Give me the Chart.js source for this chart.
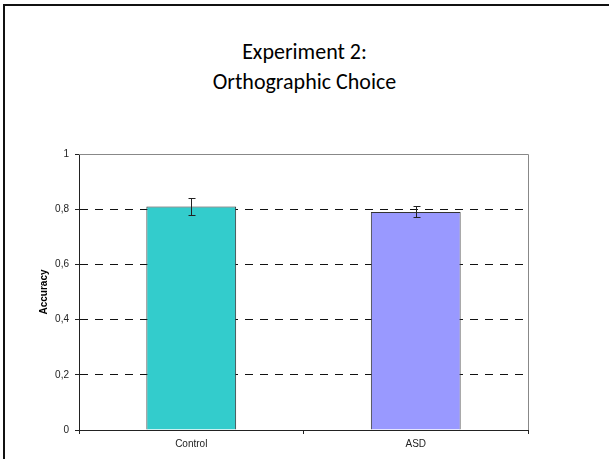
<!DOCTYPE html>
<html>
<head>
<meta charset="utf-8">
<script src="https://cdn.jsdelivr.net/npm/chart.js@4"></script>
<style>
  html, body { margin: 0; padding: 0; background: #fff; }
  #slide { position: relative; width: 609px; height: 459px; overflow: hidden; }
  #frame { position: absolute; left: 3px; top: 4px; width: 620px; height: 470px;
           border-top: 2px solid #111; border-left: 2px solid #111; }
  #title { position: absolute; left: 0; top: 37px; width: 609px; text-align: center;
           font-family: Carlito, Lato, 'Liberation Sans', sans-serif; font-size: 22px;
           line-height: 30px; color: #000; }
  #wrap { position: absolute; left: 0; top: 140px; width: 609px; height: 319px; }
</style>
</head>
<body>
<div id="slide">
  <div id="frame"></div>
  <div id="title">Experiment 2:<br>Orthographic Choice</div>
  <div id="wrap"><canvas id="accChart"></canvas></div>
</div>
<script>
const groups = ['Control', 'ASD'];
const accuracy = [0.81, 0.79];
const errors = [0.03, 0.02];
const barColors = ['#33CCCC', '#9999FF'];
const yTicks = [0, 0.2, 0.4, 0.6, 0.8, 1];

// error bars on top of each bar
const errorBars = {
  id: 'errorBars',
  afterDatasetsDraw(chart) {
    const ctx = chart.ctx;
    const meta = chart.getDatasetMeta(0);
    const y = chart.scales.y;
    ctx.save();
    ctx.strokeStyle = '#222';
    ctx.lineWidth = 1;
    meta.data.forEach((bar, i) => {
      const x = Math.round(bar.x) + 0.5;
      const top = Math.round(y.getPixelForValue(accuracy[i] + errors[i])) + 0.5;
      const bot = Math.round(y.getPixelForValue(accuracy[i] - errors[i])) + 0.5;
      ctx.beginPath();
      ctx.moveTo(x, top); ctx.lineTo(x, bot);
      ctx.moveTo(x - 3, top); ctx.lineTo(x + 4, top);
      ctx.moveTo(x - 3, bot); ctx.lineTo(x + 4, bot);
      ctx.stroke();
    });
    ctx.restore();
  }
};

// gray plot border on top and right
const plotBorder = {
  id: 'plotBorder',
  beforeDatasetsDraw(chart) {
    const { ctx, chartArea: a } = chart;
    ctx.save();
    ctx.strokeStyle = '#888';
    ctx.lineWidth = 1;
    ctx.beginPath();
    ctx.moveTo(a.left, Math.round(a.top) + 0.5);
    ctx.lineTo(Math.round(a.right) + 0.5, Math.round(a.top) + 0.5);
    ctx.lineTo(Math.round(a.right) + 0.5, a.bottom);
    ctx.stroke();
    ctx.restore();
  }
};

new Chart(document.getElementById('accChart'), {
  type: 'bar',
  data: {
    labels: groups,
    datasets: [{
      data: accuracy,
      backgroundColor: barColors,
      borderColor: '#333',
      borderWidth: 1,
      barPercentage: 0.4,
      categoryPercentage: 1
    }]
  },
  options: {
    responsive: true,
    maintainAspectRatio: false,
    animation: false,
    layout: { padding: { top: 14, right: 81, left: 0, bottom: 0 } },
    plugins: { legend: { display: false }, tooltip: { enabled: false } },
    scales: {
      x: {
        offset: true,
        grid: { offset: true, drawOnChartArea: false, tickLength: 4, tickColor: '#222', lineWidth: 1 },
        border: { color: '#222', width: 1 },
        ticks: { color: '#222', padding: 4, font: { family: 'Liberation Sans, Arial', size: 10 } },
        afterFit: s => { s.height = 29; }
      },
      y: {
        min: 0, max: 1,
        afterBuildTicks: s => { s.ticks = yTicks.map(v => ({ value: v })); },
        grid: {
          color: c => (c.tick && (c.tick.value === 0 || c.tick.value === 1)) ? 'rgba(0,0,0,0)' : '#111',
          tickColor: '#222',
          tickLength: 4,
          lineWidth: 1
        },
        border: { color: '#222', width: 1, dash: [8, 7] },
        ticks: {
          color: '#222', padding: 6,
          font: { family: 'Liberation Sans, Arial', size: 10 },
          callback: v => String(v).replace('.', ',')
        },
        title: {
          display: true, text: 'Accuracy', color: '#000',
          font: { family: 'Liberation Sans, Arial', size: 10, weight: 'bold' },
          padding: { top: 38, bottom: 0 }
        },
        afterFit: s => { s.width = 79; }
      }
    }
  },
  plugins: [plotBorder, errorBars]
});
</script>
</body>
</html>
